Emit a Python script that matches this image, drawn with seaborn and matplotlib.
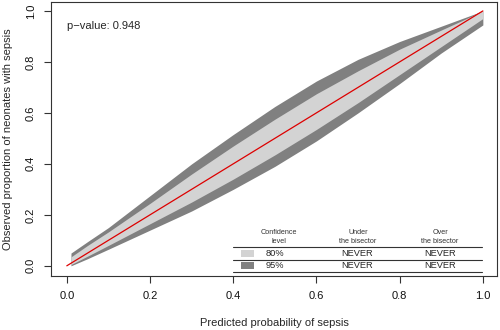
import matplotlib
matplotlib.use("Agg")
import matplotlib.pyplot as plt
import seaborn as sns
import pandas as pd

# calibration belt
pred = [0.01, 0.05, 0.1, 0.2, 0.3, 0.4, 0.5, 0.6, 0.7, 0.8, 0.9, 0.95, 1.0]
upper95 = [0.05, 0.095, 0.15, 0.275, 0.40, 0.515, 0.625, 0.725, 0.81, 0.88, 0.94, 0.97, 1.0]
upper80 = [0.035, 0.08, 0.133, 0.245, 0.36, 0.47, 0.575, 0.675, 0.765, 0.85, 0.925, 0.962, 1.0]
lower80 = [0.005, 0.038, 0.08, 0.165, 0.25, 0.34, 0.435, 0.535, 0.64, 0.75, 0.86, 0.915, 0.97]
lower95 = [0.0, 0.028, 0.065, 0.14, 0.215, 0.30, 0.39, 0.49, 0.60, 0.715, 0.835, 0.89, 0.945]
bisector = [0.0, 1.0]
ticks = [0.0, 0.2, 0.4, 0.6, 0.8, 1.0]
tick_labels = ["0.0", "0.2", "0.4", "0.6", "0.8", "1.0"]
p_value = "0.948"
levels = ["80%", "95%"]
under = ["NEVER", "NEVER"]
over = ["NEVER", "NEVER"]

sns.set_style("ticks")
plt.rcParams["font.family"] = ["Liberation Sans", "DejaVu Sans"]
plt.rcParams["axes.linewidth"] = 0.8

dark = "#808080"
light = "#d3d3d3"

fig = plt.figure(figsize=(5, 3.3), dpi=100)
ax = fig.add_axes([51 / 500, 54 / 330, 446 / 500, 274 / 330])

belt = pd.DataFrame({"x": pred, "u95": upper95, "u80": upper80, "l80": lower80, "l95": lower95})
ax.fill_between(belt["x"], belt["l95"], belt["u95"], color=dark, lw=0)
ax.fill_between(belt["x"], belt["l80"], belt["u80"], color=light, lw=0)

# bisector
sns.lineplot(x=bisector, y=bisector, color="#dd0000", lw=0.9, ax=ax)

ax.set_xlim(-0.038, 1.034)
ax.set_ylim(-0.04, 1.035)
ax.set_xticks(ticks)
ax.set_xticklabels(tick_labels)
ax.set_yticks(ticks)
ax.set_yticklabels(tick_labels, rotation=90, va="center")
ax.tick_params(axis="both", labelsize=8, length=5, width=0.8, pad=6, color="#333333", labelcolor="#111111")
for s in ax.spines.values():
    s.set_color("#333333")
    s.set_visible(True)

ax.set_xlabel("Predicted probability of sepsis", fontsize=8, labelpad=12)
ax.set_ylabel("Observed proportion of neonates with sepsis", fontsize=8, labelpad=9)

ax.text(0.0, 0.94, "p\u2212value: " + p_value, fontsize=8, ha="left", va="center")

# legend table
hdr = dict(fontsize=5.2, ha="center", va="center", linespacing=1.3, color="#333333")
ax.text(0.51, 0.113, "Confidence\nlevel", **hdr)
ax.text(0.70, 0.113, "Under\nthe bisector", **hdr)
ax.text(0.897, 0.113, "Over\nthe bisector", **hdr)
for yy in [0.0745, 0.0235, -0.0235]:
    ax.plot([0.4, 0.998], [yy, yy], color="#333333", lw=0.8)
row_y = [0.049, 0.0]
for yy, lev, u, o, c in zip(row_y, levels, under, over, [light, dark]):
    ax.add_patch(plt.Rectangle((0.418, yy - 0.013), 0.032, 0.026, color=c, lw=0))
    ax.text(0.5, yy, lev, fontsize=6.7, ha="center", va="center")
    ax.text(0.697, yy, u, fontsize=6.7, ha="center", va="center")
    ax.text(0.897, yy, o, fontsize=6.7, ha="center", va="center")

fig.savefig("out.png", dpi=100)
